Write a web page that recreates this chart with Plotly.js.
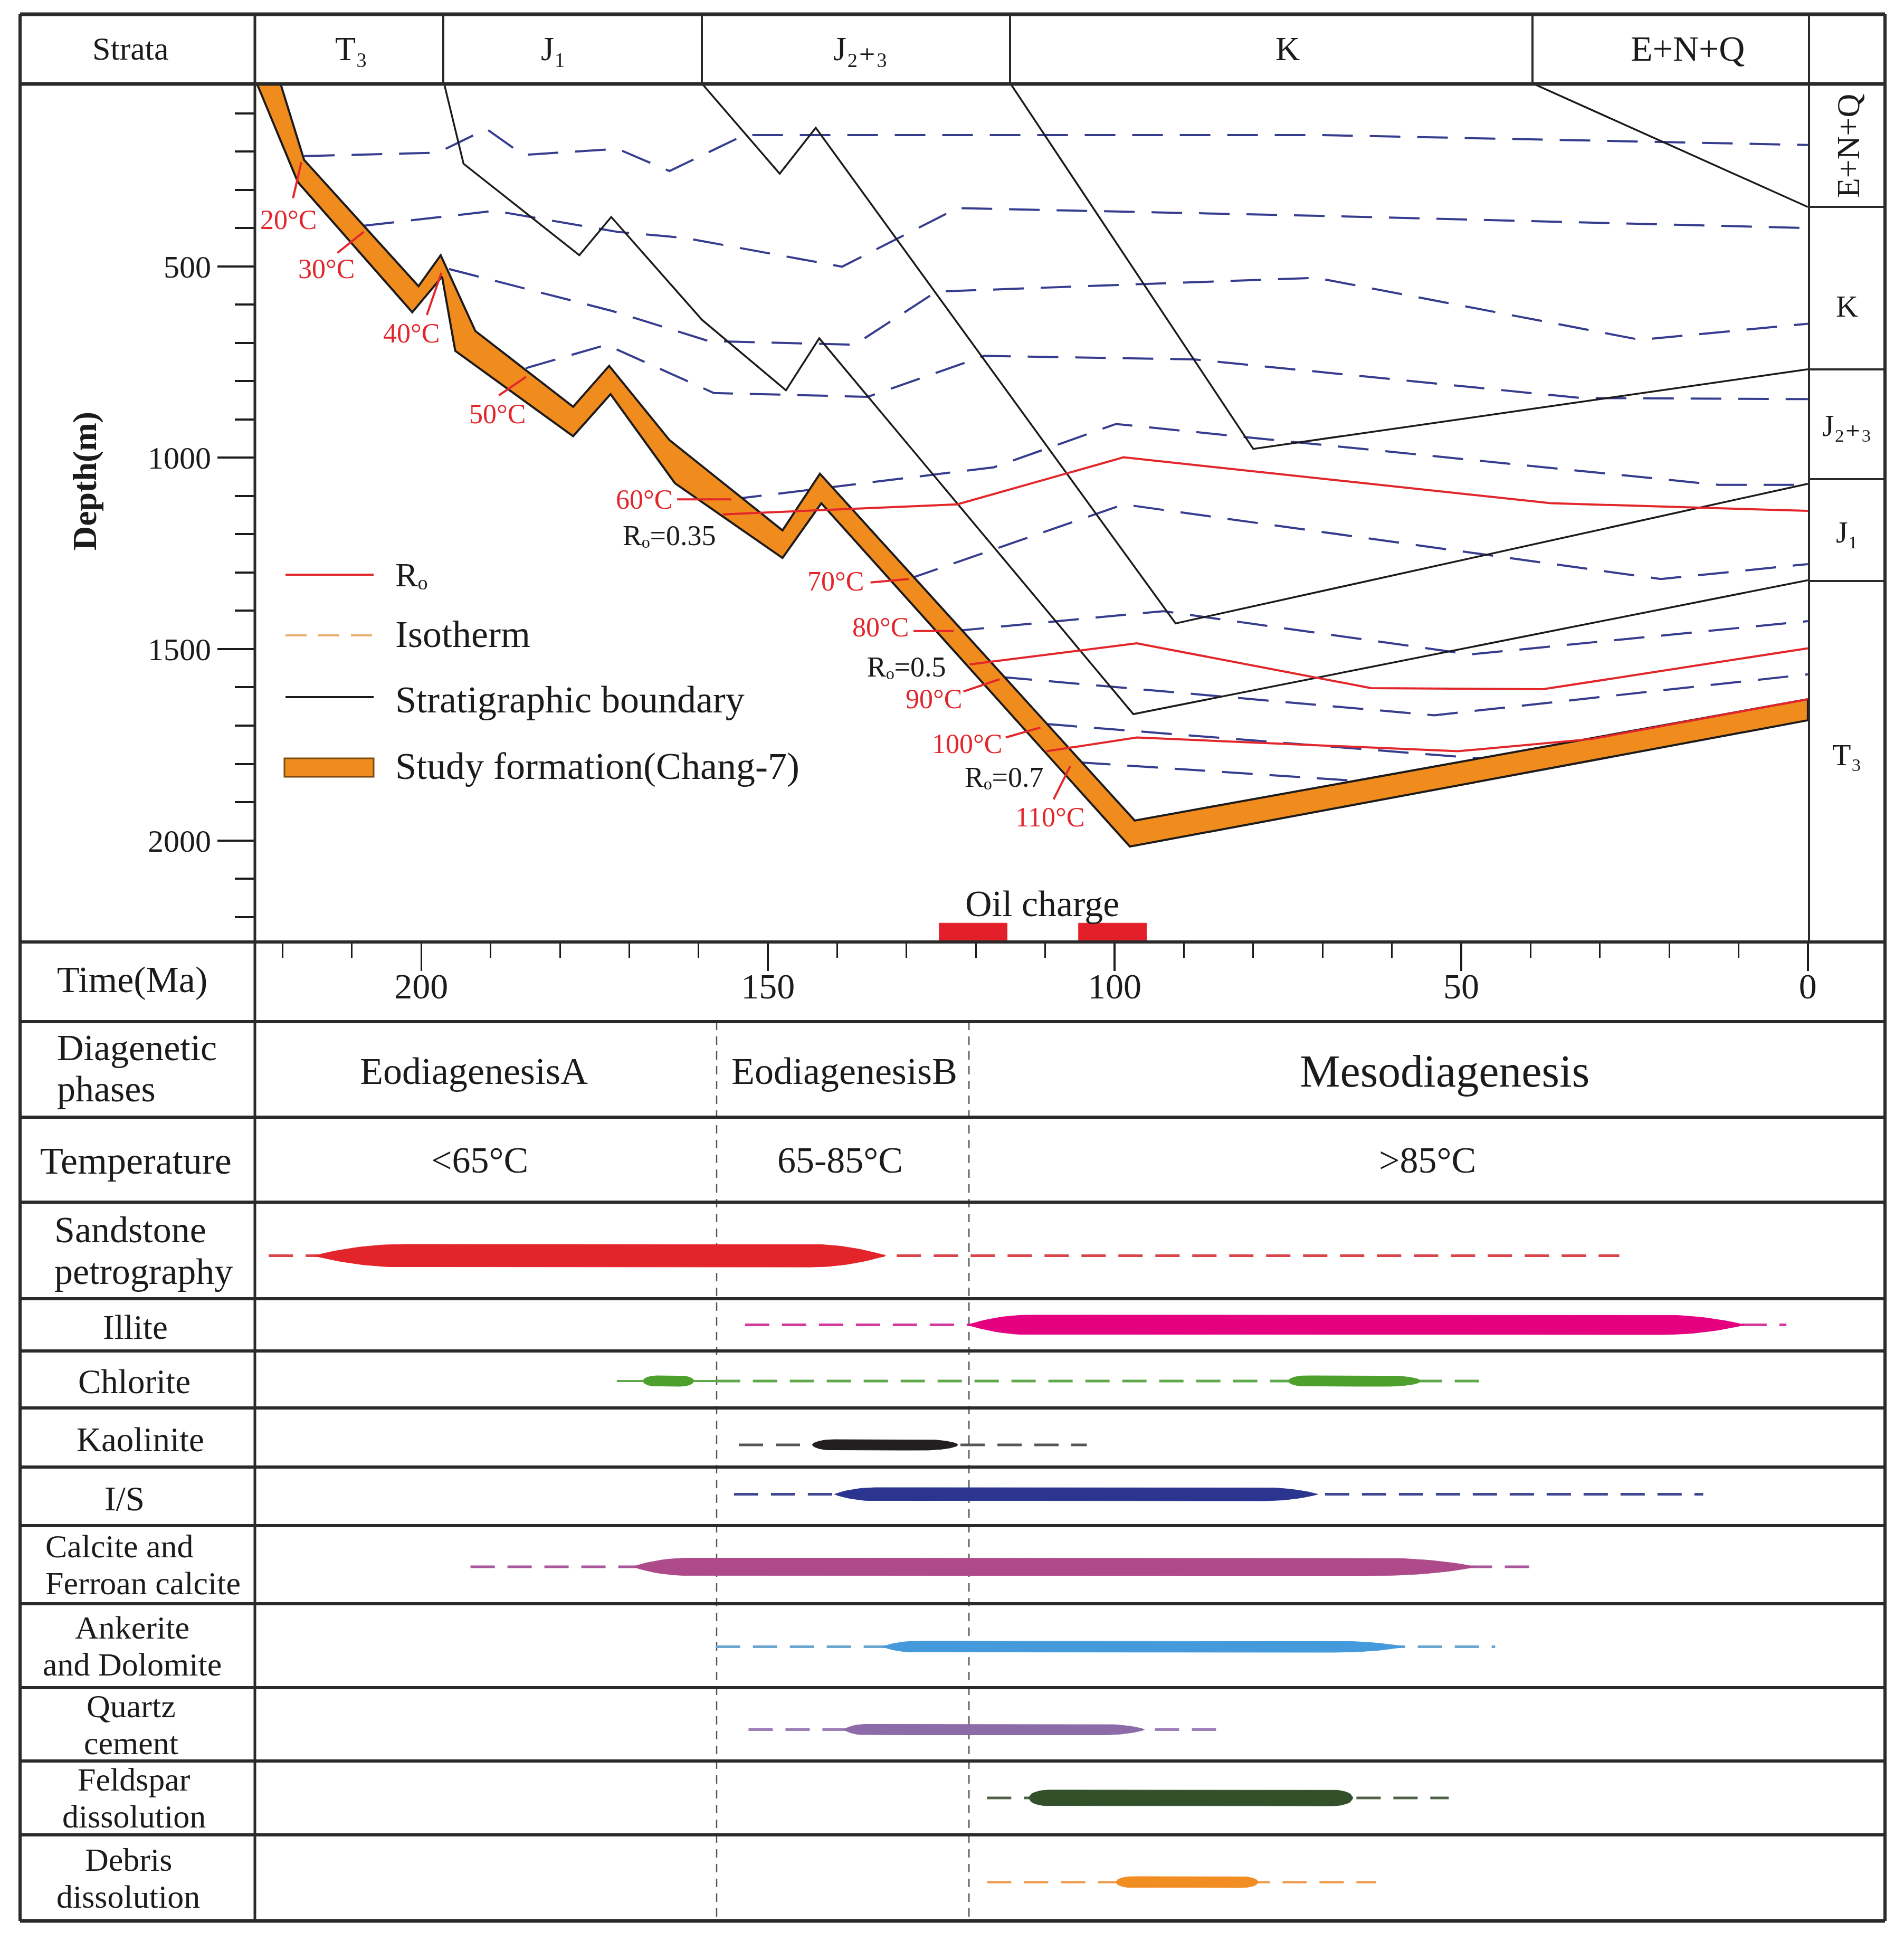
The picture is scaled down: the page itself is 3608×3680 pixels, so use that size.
<!DOCTYPE html>
<html>
<head>
<meta charset="utf-8">
<script src="https://cdn.plot.ly/plotly-3.0.1.min.js"></script>
<style>html,body{margin:0;padding:0;background:#ffffff;}#chart{width:3608px;height:3680px;}</style>
</head>
<body>
<div id="chart"></div>
<script>
// ================= DATA =================
// Header strata (columns) and present-day strata (right column)
const strataUnits = ['T₃', 'J₁', 'J₂₊₃', 'K', 'E+N+Q'];
const presentStrata = ['E+N+Q', 'K', 'J₂₊₃', 'J₁', 'T₃'];

// Study formation (Chang-7): top and base burial paths (Ma, m)
const chang7TopTime  = [220.3, 216.9, 200.4, 197.2, 192.2, 178.1, 172.9, 164.2, 147.9, 142.5, 97.1, 0];
const chang7TopDepth = [23, 222, 552, 471, 669, 867, 760, 954, 1190, 1042, 1948, 1631];
const chang7BaseTime  = [223.7, 217.8, 201.3, 197.0, 195.1, 178.1, 172.7, 163.4, 147.9, 142.3, 97.8, 0];
const chang7BaseDepth = [23, 280, 620, 527, 721, 944, 834, 1067, 1262, 1119, 2016, 1686];

// Stratigraphic boundaries (Ma, m)
const bndJ1Time  = [196.7, 193.9, 177.2, 172.6, 159.5, 147.4, 142.6, 97.3, 0];
const bndJ1Depth = [23, 232, 471, 371, 640, 824, 688, 1670, 1320];
const bndJ23Time  = [159.5, 148.3, 143.1, 91.2, 0];
const bndJ23Depth = [23, 258, 138, 1433, 1068];
const bndKTime  = [115.0, 80.0, 0];
const bndKDepth = [23, 977, 769];
const bndENQTime  = [39.6, 0];
const bndENQDepth = [23, 345];

// Isotherms (Ma, m)
const iso20Time  = [216.9, 197.6, 190.6, 185.3, 171.7, 164.2, 153.4, 70.5, 0];
const iso20Depth = [212, 203, 141, 209, 193, 251, 157, 157, 183];
const iso30Time  = [208.3, 189.4, 171.7, 161.9, 139.3, 122.7, 70.5, 0];
const iso30Depth = [394, 355, 410, 426, 501, 348, 368, 400];
const iso40Time  = [196.0, 172.4, 158.6, 137.5, 125.7, 70.9, 24.2, 0];
const iso40Depth = [507, 617, 695, 705, 566, 530, 692, 650];
const iso50Time  = [184.9, 173.3, 157.8, 135.6, 118.8, 88.6, 32.8, 0];
const iso50Depth = [766, 705, 831, 841, 734, 743, 844, 847];
const iso60Time  = [155.3, 117.4, 99.8, 12.9, 0];
const iso60Depth = [1109, 1025, 912, 1071, 1071];
const iso70Time  = [129.7, 98.7, 21.2, 0];
const iso70Depth = [1317, 1122, 1317, 1278];
const iso80Time  = [123.2, 93.0, 48.7, 0];
const iso80Depth = [1453, 1401, 1514, 1427];
const iso90Time  = [116.3, 53.9, 0];
const iso90Depth = [1573, 1673, 1566];
const iso100Time  = [109.8, 78.0, 47.1];
const iso100Depth = [1696, 1741, 1786];
const iso110Time  = [105.0, 64.6];
const iso110Depth = [1796, 1845];
const isoLabels = ['20°C','30°C','40°C','50°C','60°C','70°C','80°C','90°C','100°C','110°C'];

// Vitrinite reflectance isolines (Ma, m)
const ro035Time  = [156.5, 122.7, 98.7, 37.1, 0];
const ro035Depth = [1148, 1122, 999, 1119, 1139];
const ro05Time  = [120.9, 96.8, 63.0, 38.2, 0];
const ro05Depth = [1540, 1485, 1602, 1605, 1498];
const ro07Time  = [109.8, 96.8, 50.5, 31.2, 0];
const ro07Depth = [1767, 1731, 1767, 1735, 1631];
const roLabels = ['Rₒ=0.35', 'Rₒ=0.5', 'Rₒ=0.7'];

// Oil charge periods (Ma)
const oilStart = [125.3, 105.2];
const oilEnd   = [115.5, 95.4];

// Diagenetic phases
const phaseNames = ['EodiagenesisA', 'EodiagenesisB', 'Mesodiagenesis'];
const phaseTemps = ['<65°C', '65-85°C', '>85°C'];
const phaseBoundaries = [157.4, 121.0];   // Ma

// Diagenetic processes (Ma)
const processLabels = ['Sandstone<br>petrography', 'Illite', 'Chlorite', 'Kaolinite', 'I/S',
  'Calcite and<br>Ferroan calcite', 'Ankerite<br>and Dolomite', 'Quartz<br>cement',
  'Feldspar<br>dissolution', 'Debris<br>dissolution'];
const dashFrom = [222.0, 153.3, 157.5, 154.2, 154.9, 192.9, 157.5, 152.8, 118.4, 118.4];
const dashTo   = [27.2, 3.1, 47.1, 104.0, 15.1, 39.6, 45.1, 85.1, 51.8, 62.3];
const mainFrom = [215.5, 121.2, 168.0, 143.6, 140.4, 169.4, 133.5, 139.0, 112.4, 99.8];
const mainTo   = [133.0, 9.1, 160.7, 122.6, 70.7, 48.0, 58.2, 95.7, 65.6, 79.3];
const chloriteLeadFrom = 171.8, chloriteLeadTo = 157.5;
const chloriteSecondFrom = 74.9, chloriteSecondTo = 55.9;

// ================= STYLE / LAYOUT =================
const W = 3608, H = 3680;
const FONT = '"Liberation Serif", "Times New Roman", "DejaVu Serif", Times, serif';
const INK = '#1c1a1b';
const PX = v => v / W, PY = v => 1 - v / H;

const plotLeft = 483, plotRight = 3426, plotTop = 159, plotBottom = 1785;
const frameL = 38, frameR = 3572, frameT = 27, frameB = 3640;
const rightCol = 3428;
const rowLines = [1785, 1936, 2117, 2278, 2461, 2560, 2668, 2780, 2891, 3039, 3198, 3337, 3477, 3640];

const procColor = ['#E3242B', '#E4007F', '#4EA02D', '#231F20', '#2B3590', '#AE4A8A', '#449ADB', '#8C6BA8', '#32502A', '#F18D22'];
const dashColor = ['#D9434A', '#D43A9C', '#5FA84A', '#555555', '#3F4791', '#A9599B', '#6AA6CF', '#9C7EB6', '#4F6249', '#EFA055'];
const thick = [43, 37, 20, 20, 25, 33, 21, 20, 30, 21];
const taperL = [13, 9, 2, 3, 6, 8, 5, 3, 3, 2.5];
const taperR = [11, 12, 2, 5, 8, 14, 10, 6, 3, 2.5];
const taperP = [1, 1, 0.5, 0.6, 0.9, 0.9, 0.9, 0.8, 0.5, 0.5];
const yOffset = [10, 0, 3, 14, -4, 4, 2, 10, 0, 8];
// row-label placement: [x(px), anchor, font size, line spacing]
const labelPlace = [[101, 'left', 70, 79], [256, 'center', 65, 0], [254, 'center', 65, 0], [266, 'center', 65, 0],
  [236, 'center', 65, 0], [84, 'left', 62, 70], [250, 'center', 62, 70], [248, 'center', 62, 70],
  [254, 'center', 62, 70], [243, 'center', 62, 70]];

const ISO_COLOR = '#363C8E', RO_COLOR = '#E2262B', ORANGE = '#F08C1E';

const traces = [];
function line(x, y, color, width, dash, yaxis) {
  traces.push({type: 'scatter', mode: 'lines', x: x, y: y, xaxis: 'x', yaxis: yaxis || 'y',
    line: {color: color, width: width, dash: dash || 'solid'}, hoverinfo: 'skip', showlegend: false});
}

// isotherms
const isoT = [iso20Time, iso30Time, iso40Time, iso50Time, iso60Time, iso70Time, iso80Time, iso90Time, iso100Time, iso110Time];
const isoD = [iso20Depth, iso30Depth, iso40Depth, iso50Depth, iso60Depth, iso70Depth, iso80Depth, iso90Depth, iso100Depth, iso110Depth];
isoT.forEach((t, i) => line(t, isoD[i], ISO_COLOR, 4, '58px,32px'));

// stratigraphic boundaries
[[bndJ1Time, bndJ1Depth], [bndJ23Time, bndJ23Depth], [bndKTime, bndKDepth], [bndENQTime, bndENQDepth]]
  .forEach(b => line(b[0], b[1], INK, 3.5));

// study formation band
traces.push({type: 'scatter', mode: 'lines', xaxis: 'x', yaxis: 'y',
  x: chang7TopTime.concat(chang7BaseTime.slice().reverse()),
  y: chang7TopDepth.concat(chang7BaseDepth.slice().reverse()),
  fill: 'toself', fillcolor: ORANGE, line: {color: INK, width: 4}, hoverinfo: 'skip', showlegend: false});

// Ro lines
[[ro035Time, ro035Depth], [ro05Time, ro05Depth], [ro07Time, ro07Depth]]
  .forEach(r => line(r[0], r[1], RO_COLOR, 4));

// oil charge bars
oilStart.forEach((s, i) => {
  const e = oilEnd[i];
  traces.push({type: 'scatter', mode: 'lines', xaxis: 'x', yaxis: 'y',
    x: [s, e, e, s, s], y: [2216, 2216, 2266, 2266, 2216], fill: 'toself', fillcolor: '#E3202A',
    line: {color: '#E3202A', width: 1}, hoverinfo: 'skip', showlegend: false});
});

// table: phase boundaries (dashed verticals)
phaseBoundaries.forEach(b => line([b, b], [rowLines[1], rowLines[13]], '#555555', 2.5, '16px,12px', 'y2'));

// table: process bars
function lens(t0, t1, yc, h, Ll, Lr, p) {
  const N = 120, xs = [], top = [], bot = [];
  for (let i = 0; i <= N; i++) {
    const t = t0 - (t0 - t1) * i / N;
    const eL = t0 - t, eR = t - t1;
    let f = 1;
    if (eL < Ll) f = Math.min(f, Math.pow(Math.max(0, 1 - Math.pow(1 - eL / Ll, 2)), p));
    if (eR < Lr) f = Math.min(f, Math.pow(Math.max(0, 1 - Math.pow(1 - eR / Lr, 2)), p));
    xs.push(t); top.push(yc - h / 2 * f); bot.push(yc + h / 2 * f);
  }
  return {x: xs.concat(xs.slice().reverse()), y: top.concat(bot.slice().reverse())};
}
function spindle(k, t0, t1, yc, Ll, Lr) {
  const s = lens(t0, t1, yc, thick[k], Ll, Lr, taperP[k]);
  traces.push({type: 'scatter', mode: 'lines', xaxis: 'x', yaxis: 'y2', x: s.x, y: s.y,
    fill: 'toself', fillcolor: procColor[k], line: {color: procColor[k], width: 1},
    hoverinfo: 'skip', showlegend: false});
}
processLabels.forEach((lab, k) => {
  const yc = (rowLines[3 + k] + rowLines[4 + k]) / 2 + yOffset[k];
  line([dashFrom[k], dashTo[k]], [yc, yc], dashColor[k], 5, '46px,24px', 'y2');
  if (k === 2) {
    line([chloriteLeadFrom, chloriteLeadTo], [yc, yc], dashColor[k], 4, 'solid', 'y2');
    spindle(k, chloriteSecondFrom, chloriteSecondTo, yc, 2.5, 5);
  }
  spindle(k, mainFrom[k], mainTo[k], yc, taperL[k], taperR[k]);
});

// ================= SHAPES =================
const shapes = [];
function pline(x0, y0, x1, y1, w, color, dash) {
  shapes.push({type: 'line', xref: 'paper', yref: 'paper', x0: PX(x0), y0: PY(y0), x1: PX(x1), y1: PY(y1),
    line: {color: color || '#2a2a2a', width: w, dash: dash || 'solid'}});
}
// frame
pline(frameL, frameT, frameR, frameT, 7);
pline(frameL, frameB, frameR, frameB, 7);
pline(frameL, frameT, frameL, frameB, 6);
pline(frameR, frameT, frameR, frameB, 6);
pline(plotLeft, frameT, plotLeft, frameB, 5);
pline(frameL, plotTop, frameR, plotTop, 7);
rowLines.slice(0, 13).forEach(y => pline(frameL, y, frameR, y, 6));
// header separators
[840, 1330, 1914, 2904].forEach(x => pline(x, frameT, x, plotTop, 4));
pline(rightCol, frameT, rightCol, plotBottom, 4);
[392, 700, 908, 1101].forEach(y => pline(rightCol, y, frameR, y, 4));

// leader lines for isotherm labels (data coords)
const leaders = [
  [217.3, 228, 218.5, 322], [208.3, 410, 212.1, 465], [197.1, 517, 199.2, 627], [184.9, 789, 188.8, 837],
  [163.1, 1109, 155.3, 1109], [135.2, 1326, 129.7, 1317], [129.0, 1453, 123.2, 1453],
  [121.8, 1611, 116.6, 1579], [115.7, 1731, 110.7, 1705], [108.8, 1893, 106.4, 1806]];
leaders.forEach(l => shapes.push({type: 'line', xref: 'x', yref: 'y', x0: l[0], y0: l[1], x1: l[2], y1: l[3],
  line: {color: RO_COLOR, width: 4}}));

// legend samples
pline(541, 1089, 708, 1089, 4, RO_COLOR);
pline(541, 1204, 708, 1204, 4, '#E8B06A', '40px,22px');
pline(541, 1321, 708, 1321, 4, INK);
shapes.push({type: 'rect', xref: 'paper', yref: 'paper', x0: PX(539), x1: PX(708), y0: PY(1472), y1: PY(1437),
  fillcolor: ORANGE, line: {color: '#7a4a10', width: 3}});

// ================= ANNOTATIONS =================
const annotations = [];
function ann(text, x, y, size, o) {
  annotations.push(Object.assign({text: text, x: PX(x), y: PY(y), xref: 'paper', yref: 'paper', showarrow: false,
    font: {family: FONT, size: size, color: INK}, xanchor: 'center', yanchor: 'middle'}, o || {}));
}
function dann(text, t, d, size, color, o) {
  annotations.push(Object.assign({text: text, x: t, y: d, xref: 'x', yref: 'y', showarrow: false,
    font: {family: FONT, size: size, color: color}, xanchor: 'center', yanchor: 'middle'}, o || {}));
}
// header
ann('Strata', 247, 92, 62);
const headerX = [665, 1048, 1630, 2440, 3198];
strataUnits.forEach((s, i) => ann(s, headerX[i], 92, i === 4 ? 68 : 64));
// right column
ann(presentStrata[0], 3502, 277, 62, {textangle: -90});
[580, 806, 1009, 1430].forEach((y, i) => ann(presentStrata[i + 1], 3500, y, 58));
// depth title
ann('<b>Depth(m)</b>', 160, 912, 64, {textangle: -90});
// isotherm labels
const isoLabPos = [[219.2, 378], [213.7, 507], [201.4, 675], [189.0, 886], [167.9, 1109],
  [140.2, 1323], [133.8, 1443], [126.1, 1631], [121.3, 1747], [109.3, 1939]];
isoLabels.forEach((s, i) => dann(s, isoLabPos[i][0], isoLabPos[i][1], 52, RO_COLOR));
const roLabPos = [[164.2, 1203], [130.0, 1547], [115.9, 1835]];
roLabels.forEach((s, i) => dann(s, roLabPos[i][0], roLabPos[i][1], 54, INK));
// oil charge
ann('Oil charge', 1975, 1712, 70);
// legend text
ann('Rₒ', 747, 1089, 64, {xanchor: 'left'});
ann('Isotherm', 747, 1202, 72, {xanchor: 'left'});
ann('Stratigraphic boundary', 747, 1326, 72, {xanchor: 'left'});
ann('Study formation(Chang-7)', 747, 1452, 72, {xanchor: 'left'});
// table row labels
ann('Time(Ma)', 250, 1857, 70);
ann('Diagenetic', 106, 1985, 70, {xanchor: 'left'});
ann('phases', 106, 2063, 70, {xanchor: 'left'});
ann('Temperature', 257, 2200, 72);
processLabels.forEach((lab, k) => {
  const parts = lab.split('<br>');
  const mid = (rowLines[3 + k] + rowLines[4 + k]) / 2;
  const pl = labelPlace[k];
  parts.forEach((p, j) => {
    const y = parts.length === 1 ? mid + 4 : mid + (j - 0.5) * pl[3];
    ann(p, pl[0], y, pl[2], {xanchor: pl[1]});
  });
});
// phase names and temperatures
const phaseNameX = [192.4, 139.0, 52.4];
const phaseTempX = [191.6, 139.6, 54.9];
phaseNames.forEach((s, i) => annotations.push({text: s, x: phaseNameX[i], y: PY(2030), xref: 'x', yref: 'paper',
  showarrow: false, font: {family: FONT, size: i === 2 ? 86 : 72, color: INK}, xanchor: 'center', yanchor: 'middle'}));
phaseTemps.forEach((s, i) => annotations.push({text: s, x: phaseTempX[i], y: PY(2198), xref: 'x', yref: 'paper',
  showarrow: false, font: {family: FONT, size: 70, color: INK}, xanchor: 'center', yanchor: 'middle'}));

// ================= LAYOUT =================
const layout = {
  width: W, height: H, margin: {l: 0, r: 0, t: 0, b: 0},
  paper_bgcolor: '#ffffff', plot_bgcolor: 'rgba(0,0,0,0)',
  showlegend: false,
  font: {family: FONT, color: INK},
  xaxis: {domain: [PX(plotLeft), PX(plotRight)], range: [224.0, -0.01], anchor: 'y',
    showgrid: false, zeroline: false, showline: false,
    tick0: 0, dtick: 50, ticks: 'outside', ticklen: 54, tickwidth: 3.5, tickcolor: INK,
    ticklabelstandoff: -30,
    tickfont: {family: FONT, size: 68, color: INK},
    minor: {dtick: 10, tick0: 0, ticks: 'outside', ticklen: 29, tickwidth: 3, tickcolor: INK, showgrid: false}},
  yaxis: {domain: [PY(plotBottom), PY(plotTop)], range: [2265.3, 23.4], anchor: 'x',
    showgrid: false, zeroline: false, showline: false,
    tick0: 0, dtick: 500, ticks: 'outside', ticklen: 70, tickwidth: 4, tickcolor: INK,
    tickfont: {family: FONT, size: 60, color: INK},
    minor: {dtick: 100, tick0: 0, ticks: 'outside', ticklen: 37, tickwidth: 4, tickcolor: INK, showgrid: false}},
  yaxis2: {domain: [0, 1], range: [H, 0], anchor: 'free', position: 0, visible: false,
    showgrid: false, zeroline: false},
  shapes: shapes,
  annotations: annotations
};

Plotly.newPlot('chart', traces, layout, {staticPlot: true, displayModeBar: false});
</script>
</body>
</html>
